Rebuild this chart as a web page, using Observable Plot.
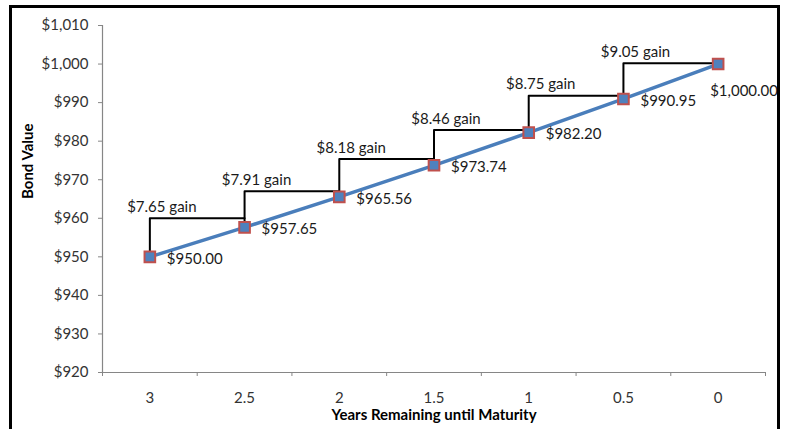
<!DOCTYPE html>
<html><head><meta charset="utf-8">
<script src="https://cdn.jsdelivr.net/npm/d3@7"></script>
<script src="https://cdn.jsdelivr.net/npm/@observablehq/plot@0.6"></script>
<style>
html,body{margin:0;padding:0;background:#fff;overflow:hidden;width:786px;height:429px}
#wrap{position:relative;width:786px;height:429px;overflow:hidden}
#frame{position:absolute;left:9px;top:5px;width:771px;height:500px;border:3px solid #000;box-sizing:border-box;pointer-events:none}
</style></head><body><div id="wrap"><div id="chart"></div><div id="frame"></div></div>
<script>
const years = [3, 2.5, 2, 1.5, 1, 0.5, 0];
const bondValues = [950.00, 957.65, 965.56, 973.74, 982.20, 990.95, 1000.00];
const gains = [7.65, 7.91, 8.18, 8.46, 8.75, 9.05];
const stepLevels = [960.0, 967.0, 975.4, 982.9, 991.8, 1000.2];
const yTicks = [920, 930, 940, 950, 960, 970, 980, 990, 1000, 1010];
const xBoundaries = [3.25, 2.75, 2.25, 1.75, 1.25, 0.75, 0.25, -0.25];
const xTitle = "Years Remaining until Maturity";
const yTitle = "Bond Value";

const points = years.map((t, i) => ({t, v: bondValues[i]}));
const steps = gains.flatMap((g, i) => [
  {step: i, t: years[i], v: bondValues[i]},
  {step: i, t: years[i], v: stepLevels[i]},
  {step: i, t: years[i + 1], v: stepLevels[i]}
]);
const gainLabels = gains.map((g, i) => ({t: years[i], v: stepLevels[i], label: `$${g.toFixed(2)} gain`}));
const fmt = d3.format("$,.2f");

const plot = Plot.plot({
  width: 786, height: 429,
  marginLeft: 102, marginRight: 21, marginTop: 25, marginBottom: 57,
  style: {fontFamily: "Lato, sans-serif", fontSize: "15px", color: "#333", background: "transparent"},
  x: {domain: [3.25, -0.25], axis: null},
  y: {domain: [920, 1010], axis: null},
  marks: [
    Plot.ruleY([920], {stroke: "#868686", strokeWidth: 1.2}),
    Plot.ruleX([3.25], {stroke: "#868686", strokeWidth: 1.2}),
    Plot.axisY(yTicks, {tickSize: 4, tickPadding: 10, tickFormat: d3.format("$,"), stroke: "#868686", fill: "#333", fontSize: 15, label: null}),
    Plot.axisX(xBoundaries, {tickSize: 4, tickFormat: () => "", stroke: "#868686", label: null}),
    Plot.axisX(years, {tickSize: 0, tickPadding: 0, dy: 20, tickFormat: d => String(d), fill: "#333", fontSize: 15, label: null}),
    Plot.line(steps, {x: "t", y: "v", z: "step", stroke: "#000", strokeWidth: 2}),
    Plot.line(points, {x: "t", y: "v", stroke: "#4a7ebb", strokeWidth: 3.5}),
    Plot.dot(points, {x: "t", y: "v", symbol: "square", r: 6, fill: "#4f81bd", stroke: "#c0504d", strokeWidth: 2}),
    Plot.text(points.slice(0, 6), {x: "t", y: "v", text: d => fmt(d.v), textAnchor: "start", dx: 17, dy: 2, fill: "#1a1a1a", fontSize: 15}),
    Plot.text(points.slice(6), {x: "t", y: "v", text: d => fmt(d.v), textAnchor: "start", dx: -8, dy: 27, fill: "#1a1a1a", fontSize: 15}),
    Plot.text(gainLabels, {x: "t", y: "v", text: "label", dx: 12, dy: -11, fill: "#1a1a1a", fontSize: 15}),
    Plot.text([xTitle], {frameAnchor: "bottom", lineAnchor: "middle", dy: 43, fontWeight: "bold", fill: "#000", fontSize: 15}),
    Plot.text([yTitle], {frameAnchor: "left", dx: -74, rotate: -90, fontWeight: "bold", fill: "#000", fontSize: 15})
  ]
});
document.getElementById("chart").append(plot);
</script></body></html>
